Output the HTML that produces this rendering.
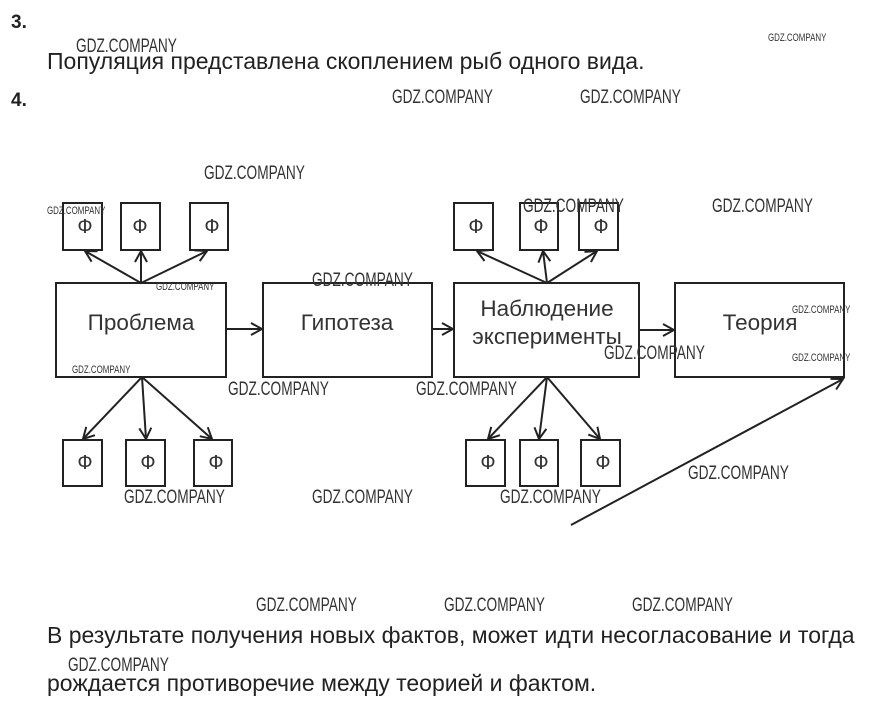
<!DOCTYPE html>
<html><head><meta charset="utf-8"><style>
body{margin:0;width:871px;height:715px;background:#fff;overflow:hidden;position:relative;font-family:"Liberation Sans",sans-serif;color:#222}
.t{position:absolute;white-space:nowrap}
.w{position:absolute;white-space:nowrap;font-size:19px;color:#333;transform:scaleX(0.72);transform-origin:0 0;font-family:"Liberation Sans Narrow","Liberation Sans",sans-serif}
.ws{font-size:11px}
</style></head><body>
<div class="t" style="left:11px;top:12px;font-weight:bold;font-size:19px">3.</div>
<div class="t" style="left:47px;top:48px;font-size:23px">Популяция представлена скоплением рыб одного вида.</div>
<div class="t" style="left:11px;top:90px;font-weight:bold;font-size:19px">4.</div>
<div class="t" style="left:47px;top:622px;font-size:23px">В результате получения новых фактов, может идти несогласование и тогда</div>
<div class="t" style="left:47px;top:670px;font-size:23px">рождается противоречие между теорией и фактом.</div>

<svg width="871" height="715" style="position:absolute;left:0;top:0" font-family="Liberation Sans, sans-serif">
<defs><marker id="a" markerWidth="14" markerHeight="14" refX="12" refY="7" orient="auto" markerUnits="userSpaceOnUse"><path d="M1,1 L12,7 L1,13" fill="none" stroke="#222" stroke-width="2"/></marker></defs>
<g fill="none" stroke="#222" stroke-width="2">
<rect x="56" y="283" width="170" height="94"/>
<rect x="263" y="283" width="169" height="94"/>
<rect x="454" y="283" width="185" height="94"/>
<rect x="675" y="283" width="169" height="94"/>
<rect x="63" y="203" width="39" height="47"/><rect x="121" y="203" width="39" height="47"/><rect x="190" y="203" width="38" height="47"/>
<rect x="63" y="440" width="39" height="46"/><rect x="126" y="440" width="39" height="46"/><rect x="194" y="440" width="38" height="46"/>
<rect x="454" y="203" width="39" height="47"/><rect x="520" y="203" width="38" height="47"/><rect x="579" y="203" width="39" height="47"/>
<rect x="466" y="440" width="39" height="46"/><rect x="520" y="440" width="38" height="46"/><rect x="581" y="440" width="39" height="46"/>
<g marker-end="url(#a)">
<line x1="141" y1="283" x2="85" y2="251"/><line x1="141" y1="283" x2="141" y2="251"/><line x1="141" y1="283" x2="207" y2="251"/>
<line x1="142" y1="377" x2="83" y2="439"/><line x1="142" y1="377" x2="146" y2="439"/><line x1="142" y1="377" x2="212" y2="439"/>
<line x1="547" y1="283" x2="477" y2="251"/><line x1="547" y1="283" x2="543" y2="251"/><line x1="547" y1="283" x2="597" y2="251"/>
<line x1="547" y1="377" x2="488" y2="439"/><line x1="547" y1="377" x2="539" y2="439"/><line x1="547" y1="377" x2="600" y2="439"/>
<line x1="226" y1="329" x2="262" y2="329"/><line x1="432" y1="329" x2="453" y2="329"/><line x1="639" y1="330" x2="674" y2="330"/>
<line x1="571" y1="525" x2="843" y2="379"/>
</g></g>
<g font-size="22.5" fill="#333" text-anchor="middle">
<text x="141" y="330">Проблема</text><text x="347" y="330">Гипотеза</text>
<text x="547" y="316">Наблюдение</text><text x="547" y="344">эксперименты</text>
<text x="760" y="330">Теория</text>
</g>
<g font-size="20" fill="#333" text-anchor="middle">
<text x="85" y="233">Ф</text><text x="140" y="233">Ф</text><text x="212" y="233">Ф</text>
<text x="85" y="469">Ф</text><text x="148" y="469">Ф</text><text x="216" y="469">Ф</text>
<text x="476" y="233">Ф</text><text x="541" y="233">Ф</text><text x="601" y="233">Ф</text>
<text x="488" y="469">Ф</text><text x="541" y="469">Ф</text><text x="603" y="469">Ф</text>
</g>
</svg>

<div class="w" style="left:76px;top:36px">GDZ.COMPANY</div>
<div class="w ws" style="left:768px;top:32px">GDZ.COMPANY</div>
<div class="w" style="left:392px;top:87px">GDZ.COMPANY</div>
<div class="w" style="left:580px;top:87px">GDZ.COMPANY</div>
<div class="w" style="left:204px;top:163px">GDZ.COMPANY</div>
<div class="w ws" style="left:47px;top:205px">GDZ.COMPANY</div>
<div class="w" style="left:523px;top:196px">GDZ.COMPANY</div>
<div class="w" style="left:712px;top:196px">GDZ.COMPANY</div>
<div class="w" style="left:312px;top:270px">GDZ.COMPANY</div>
<div class="w ws" style="left:156px;top:281px">GDZ.COMPANY</div>
<div class="w ws" style="left:792px;top:304px">GDZ.COMPANY</div>
<div class="w ws" style="left:792px;top:352px">GDZ.COMPANY</div>
<div class="w" style="left:604px;top:343px">GDZ.COMPANY</div>
<div class="w ws" style="left:72px;top:364px">GDZ.COMPANY</div>
<div class="w" style="left:228px;top:379px">GDZ.COMPANY</div>
<div class="w" style="left:416px;top:379px">GDZ.COMPANY</div>
<div class="w" style="left:688px;top:463px">GDZ.COMPANY</div>
<div class="w" style="left:124px;top:487px">GDZ.COMPANY</div>
<div class="w" style="left:312px;top:487px">GDZ.COMPANY</div>
<div class="w" style="left:500px;top:487px">GDZ.COMPANY</div>
<div class="w" style="left:256px;top:595px">GDZ.COMPANY</div>
<div class="w" style="left:444px;top:595px">GDZ.COMPANY</div>
<div class="w" style="left:632px;top:595px">GDZ.COMPANY</div>
<div class="w" style="left:68px;top:655px">GDZ.COMPANY</div>
</body></html>
